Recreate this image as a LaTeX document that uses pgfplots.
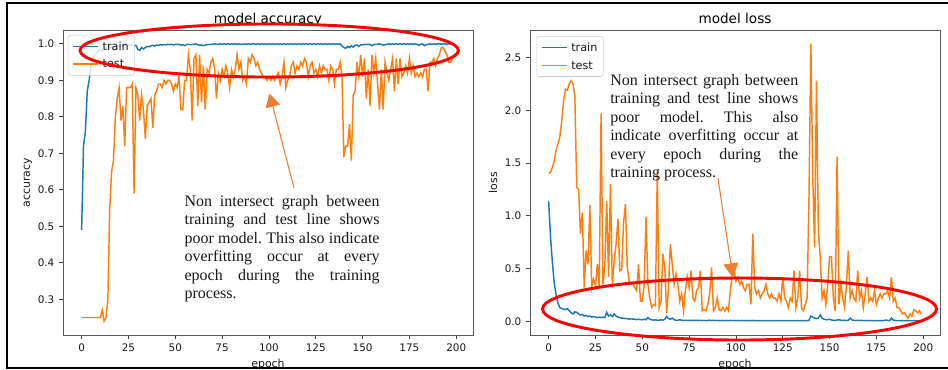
\documentclass[border=0pt]{standalone}
\usepackage{fontspec}
\setmainfont{Liberation Serif}
\newfontfamily\dejavu{DejaVu Sans}
\usepackage{pgfplots}
\pgfplotsset{compat=1.18}
\usepackage{pgfplotstable}
\usetikzlibrary{arrows.meta}
\definecolor{mplblue}{HTML}{1F77B4}
\definecolor{mplorange}{HTML}{FF7F0E}
\definecolor{annorange}{HTML}{ED7D31}
\frenchspacing

\pgfplotstableread{
e ta va tl vl
0 0.490 0.25 1.14 1.40
1 0.720 0.25 0.80 1.41
2 0.760 0.25 0.56 1.46
3 0.870 0.25 0.36 1.52
4 0.900 0.25 0.25 1.62
5 0.940 0.25 0.17 1.68
6 0.960 0.25 0.13 1.75
7 0.970 0.25 0.12 1.90
8 0.975 0.25 0.115 2.09
9 0.980 0.25 0.11 2.20
10 0.985 0.25 0.12 2.19
11 0.980 0.27 0.10 2.25
12 0.990 0.24 0.08 2.28
13 0.990 0.25 0.07 2.25
14 0.985 0.30 0.09 2.13
15 0.990 0.55 0.085 1.27
16 0.992 0.65 0.07 1.25
17 0.990 0.68 0.06 0.83
18 0.995 0.80 0.065 1.03
19 0.993 0.85 0.05 0.32
20 0.995 0.88 0.055 0.67
21 0.996 0.79 0.045 0.54
22 0.994 0.83 0.05 1.10
23 0.996 0.72 0.04 0.32
24 0.995 0.88 0.045 0.40
25 0.997 0.88 0.04 0.34
26 0.996 0.88 0.035 0.54
27 0.997 0.89 0.04 0.32
28 0.995 0.59 0.035 1.97
29 0.996 0.88 0.04 0.35
30 0.985 0.86 0.035 0.53
31 0.982 0.79 0.085 1.14
32 0.990 0.86 0.05 0.42
33 0.986 0.82 0.06 1.30
34 0.990 0.74 0.045 0.35
35 0.993 0.83 0.07 0.57
36 0.992 0.84 0.05 0.73
37 0.995 0.85 0.04 0.97
38 0.996 0.77 0.035 0.48
39 0.994 0.86 0.03 0.49
40 0.997 0.87 0.03 0.94
41 0.996 0.89 0.025 1.11
42 0.998 0.89 0.025 0.51
43 0.997 0.88 0.02 0.38
44 0.998 0.90 0.025 0.35
45 0.997 0.89 0.02 0.35
46 0.999 0.90 0.02 0.32
47 0.998 0.90 0.015 0.29
48 0.999 0.89 0.02 0.54
49 0.997 0.87 0.015 0.19
50 0.999 0.89 0.015 0.19
51 0.998 0.88 0.02 0.35
52 0.999 0.91 0.015 0.99
53 0.996 0.82 0.035 0.35
54 0.998 0.82 0.02 0.22
55 0.995 0.90 0.015 0.13
56 0.998 0.90 0.01 0.16
57 0.999 0.97 0.015 0.15
58 0.998 0.93 0.01 1.42
59 0.999 0.79 0.01 0.13
60 0.999 0.96 0.015 0.19
61 1.000 0.97 0.01 0.64
62 0.998 0.83 0.02 0.51
63 0.996 0.97 0.045 0.08
64 0.997 0.84 0.025 0.32
65 0.995 0.94 0.02 0.73
66 0.997 0.82 0.03 0.54
67 0.998 0.93 0.015 0.35
68 0.998 0.92 0.01 0.45
69 0.999 0.95 0.01 0.35
70 0.999 0.96 0.015 0.19
71 1.000 0.93 0.01 0.26
72 0.999 0.85 0.008 0.10
73 0.999 0.92 0.01 0.29
74 1.000 0.90 0.008 0.42
75 0.999 0.93 0.01 0.32
76 1.000 0.91 0.007 0.48
77 0.999 0.94 0.01 0.22
78 1.000 0.92 0.008 0.19
79 0.999 0.88 0.01 0.29
80 1.000 0.93 0.007 0.32
81 0.999 0.91 0.009 0.48
82 1.000 0.93 0.007 0.10
83 0.999 0.97 0.008 0.11
84 1.000 0.93 0.006 0.10
85 0.999 0.95 0.008 0.16
86 0.999 0.90 0.01 0.26
87 1.000 0.91 0.007 0.51
88 0.999 0.89 0.009 0.10
89 1.000 0.96 0.007 0.13
90 0.999 0.95 0.008 0.22
91 1.000 0.97 0.006 0.11
92 1.000 0.96 0.007 0.10
93 0.999 0.94 0.008 0.13
94 1.000 0.95 0.006 0.10
95 0.999 0.93 0.008 0.13
96 1.000 0.92 0.006 0.10
97 0.999 0.91 0.008 0.29
98 1.000 0.91 0.007 0.42
99 0.999 0.90 0.008 0.48
100 1.000 0.91 0.006 0.38
101 0.999 0.90 0.008 0.42
102 1.000 0.91 0.006 0.35
103 0.999 0.90 0.008 0.38
104 1.000 0.91 0.006 0.32
105 0.999 0.92 0.007 0.29
106 1.000 0.89 0.006 0.35
107 0.999 0.91 0.008 0.35
108 1.000 0.95 0.006 0.16
109 0.999 0.88 0.008 0.83
110 1.000 0.90 0.006 0.32
111 0.999 0.91 0.007 0.26
112 1.000 0.94 0.005 0.29
113 0.999 0.95 0.007 0.22
114 1.000 0.92 0.005 0.26
115 0.999 0.94 0.007 0.29
116 1.000 0.93 0.005 0.35
117 0.999 0.95 0.007 0.26
118 1.000 0.94 0.005 0.22
119 0.999 0.96 0.006 0.26
120 1.000 0.95 0.005 0.22
121 0.999 0.91 0.007 0.22
122 1.000 0.94 0.005 0.19
123 0.999 0.95 0.006 0.26
124 1.000 0.92 0.005 0.19
125 0.999 0.93 0.006 0.42
126 1.000 0.91 0.005 0.22
127 0.999 0.94 0.006 0.19
128 1.000 0.92 0.005 0.13
129 0.999 0.94 0.006 0.22
130 1.000 0.93 0.005 0.19
131 0.999 0.93 0.006 0.48
132 1.000 0.90 0.005 0.13
133 0.999 0.94 0.006 0.22
134 1.000 0.93 0.005 0.48
135 0.999 0.89 0.006 0.13
136 1.000 0.93 0.005 0.10
137 0.999 0.93 0.006 0.16
138 1.000 0.95 0.005 0.22
139 0.994 0.91 0.01 1.18
140 0.990 0.69 0.05 2.63
141 0.988 0.72 0.04 1.37
142 0.993 0.72 0.03 0.70
143 0.990 0.78 0.025 2.28
144 0.995 0.68 0.03 0.86
145 0.991 0.86 0.06 0.61
146 0.996 0.87 0.03 0.22
147 0.997 0.95 0.02 0.29
148 0.993 0.91 0.015 0.16
149 0.998 0.97 0.015 0.35
150 0.997 0.91 0.02 0.61
151 0.999 0.96 0.012 0.61
152 0.998 0.85 0.01 0.22
153 0.999 0.93 0.008 0.10
154 0.998 0.83 0.012 1.56
155 0.995 0.97 0.015 0.16
156 0.998 0.92 0.01 0.35
157 0.999 0.96 0.008 0.22
158 0.999 0.89 0.01 0.13
159 1.000 0.82 0.007 0.35
160 0.999 0.93 0.01 0.67
161 0.996 0.82 0.03 0.22
162 0.998 0.95 0.012 0.29
163 0.999 0.92 0.01 0.22
164 1.000 0.90 0.007 0.19
165 0.999 0.93 0.009 0.48
166 1.000 0.96 0.007 0.22
167 0.999 0.87 0.009 0.29
168 1.000 0.96 0.006 0.13
169 0.999 0.89 0.008 0.26
170 1.000 0.96 0.006 0.42
171 0.999 0.91 0.008 0.19
172 1.000 0.92 0.006 0.22
173 0.999 0.94 0.007 0.19
174 1.000 0.92 0.006 0.29
175 0.999 0.96 0.007 0.16
176 1.000 0.92 0.005 0.22
177 0.999 0.94 0.007 0.26
178 1.000 0.91 0.005 0.22
179 0.999 0.92 0.007 0.26
180 0.996 0.91 0.012 0.26
181 0.999 0.92 0.008 0.29
182 1.000 0.91 0.006 0.22
183 0.995 0.93 0.03 0.42
184 0.998 0.93 0.012 0.19
185 0.999 0.87 0.008 0.22
186 1.000 0.95 0.006 0.13
187 0.999 0.95 0.007 0.13
188 1.000 0.96 0.005 0.10
189 0.999 0.94 0.006 0.07
190 1.000 0.96 0.005 0.08
191 1.000 0.97 0.005 0.05
192 0.999 0.99 0.006 0.03
193 1.000 0.99 0.005 0.07
194 1.000 0.98 0.005 0.05
195 0.999 0.97 0.006 0.11
196 1.000 0.95 0.005 0.10
197 1.000 0.95 0.005 0.08
198 0.999 0.96 0.005 0.10
199 1.000 0.97 0.005 0.07
}\data

\pgfplotsset{
  every axis title shift=0pt,
  mpl/.style={
    scale only axis, width=307.5pt, height=228.75pt,
    anchor=south west,
    axis line style={black!65, line width=0.6pt},
    tick pos=left, tick align=outside, major tick length=3pt,
    tick style={black!75, line width=0.6pt},
    xmin=-9.95, xmax=208.95,
    xtick={0,25,...,200},
    /pgf/number format/assume math mode=true,
    ticklabel style={font=\dejavu\fontsize{7.8}{9}\selectfont, text=black!90},
    yticklabel style={/pgf/number format/.cd, fixed, fixed zerofill, precision=1},
    label style={font=\dejavu\fontsize{8.2}{10}\selectfont, text=black!90},
    title style={font=\dejavu\fontsize{10.2}{12}\selectfont, text=black, at={(axis description cs:0.5,1.022)}, anchor=base, yshift=0pt},
    xlabel=epoch,
    xlabel style={at={(axis description cs:0.5,-0.108)}, anchor=base},
    ylabel style={at={(axis description cs:-0.0805,0.5)}, anchor=base, rotate=0},
    legend cell align=left,
    legend image code/.code={\draw[##1, line width=1.1pt] (0pt,0pt) -- (18.75pt,0pt);},
    legend style={anchor=north west, draw=black!20, rounded corners=2pt,
      fill=white, fill opacity=0.8, text opacity=1, draw opacity=1,
      font=\dejavu\fontsize{8.4}{10}\selectfont, text=black!90,
      inner xsep=3pt, inner ysep=3.5pt, row sep=3.5pt,
      nodes={inner sep=1.5pt, text height=6.3pt, text depth=0.5pt},
      /tikz/every odd column/.append style={column sep=1.5pt}},
  }
}

\begin{document}
\begin{tikzpicture}
\path[use as bounding box] (0,0) rectangle (711pt,-276.75pt);
\fill[white] (0,0) rectangle (711pt,-276.75pt);
\clip (0,0) rectangle (711pt,-276.75pt);

\begin{axis}[mpl, at={(47.25pt,-251.25pt)},
  ymin=0.202, ymax=1.038,
  ytick={0.3,0.4,0.5,0.6,0.7,0.8,0.9,1.0},
  title={model accuracy}, ylabel={accuracy},
  legend style={at={(axis description cs:0.012,0.984)}}]
\addplot[mplblue, line width=1.1pt] table[x=e, y=ta] {\data};
\addplot[mplorange, line width=1.1pt] table[x=e, y=va] {\data};
\legend{train,test}
\end{axis}

\begin{axis}[mpl, at={(397.5pt,-251.25pt)},
  ymin=-0.13, ymax=2.76,
  ytick={0,0.5,1.0,1.5,2.0,2.5},
  title={model loss}, ylabel={loss},
  legend style={at={(axis description cs:0.016,0.98)}}]
\addplot[mplblue, line width=1.1pt] table[x=e, y=tl] {\data};
\addplot[mplorange, line width=1.1pt] table[x=e, y=vl] {\data};
\legend{train,test}
\end{axis}

\begin{scope}[x=0.75pt, y=-0.75pt]
  % red ellipses
  \draw[red, line width=2.2pt] (269.2,50.5) ellipse [x radius=141.9pt, y radius=19.9pt];
  \draw[red, line width=2.2pt] (739.5,309) ellipse [x radius=147.75pt, y radius=23.25pt];
  % arrows
  \draw[annorange, line width=0.8pt, -{Triangle[length=10pt,width=11pt]}] (294,188) -- (269.5,93.5);
  \draw[annorange, line width=0.8pt, -{Triangle[length=11pt,width=11pt]}] (718,178.5) -- (733,278);
  % annotation texts
  \begin{scope}[every node/.style={anchor=base west, inner sep=0pt, font=\fontsize{12}{14}\selectfont, text=black!90}]
    \node at (184.3,206)   {\makebox[146.25pt][s]{Non intersect graph between}};
    \node at (184.3,224.5) {\makebox[146.25pt][s]{training and test line shows}};
    \node at (184.3,243)   {\makebox[146.25pt][s]{poor model. This also indicate}};
    \node at (184.3,261.5) {\makebox[146.25pt][s]{overfitting occur at every}};
    \node at (184.3,280)   {\makebox[146.25pt][s]{epoch during the training}};
    \node at (184.3,298.5) {process.};
    \node at (610,85)    {\makebox[141pt][s]{Non intersect graph between}};
    \node at (610,103.5) {\makebox[141pt][s]{training and test line shows}};
    \node at (610,122)   {\makebox[141pt][s]{poor model. This also}};
    \node at (610,140.5) {\makebox[141pt][s]{indicate overfitting occur at}};
    \node at (610,159)   {\makebox[141pt][s]{every epoch during the}};
    \node at (610,177.5) {training process.};
  \end{scope}
  % outer frame
  \draw[black, line width=1.1pt] (948,3) -- (7,3) -- (7,368) -- (948,368);
\end{scope}
\end{tikzpicture}
\end{document}
